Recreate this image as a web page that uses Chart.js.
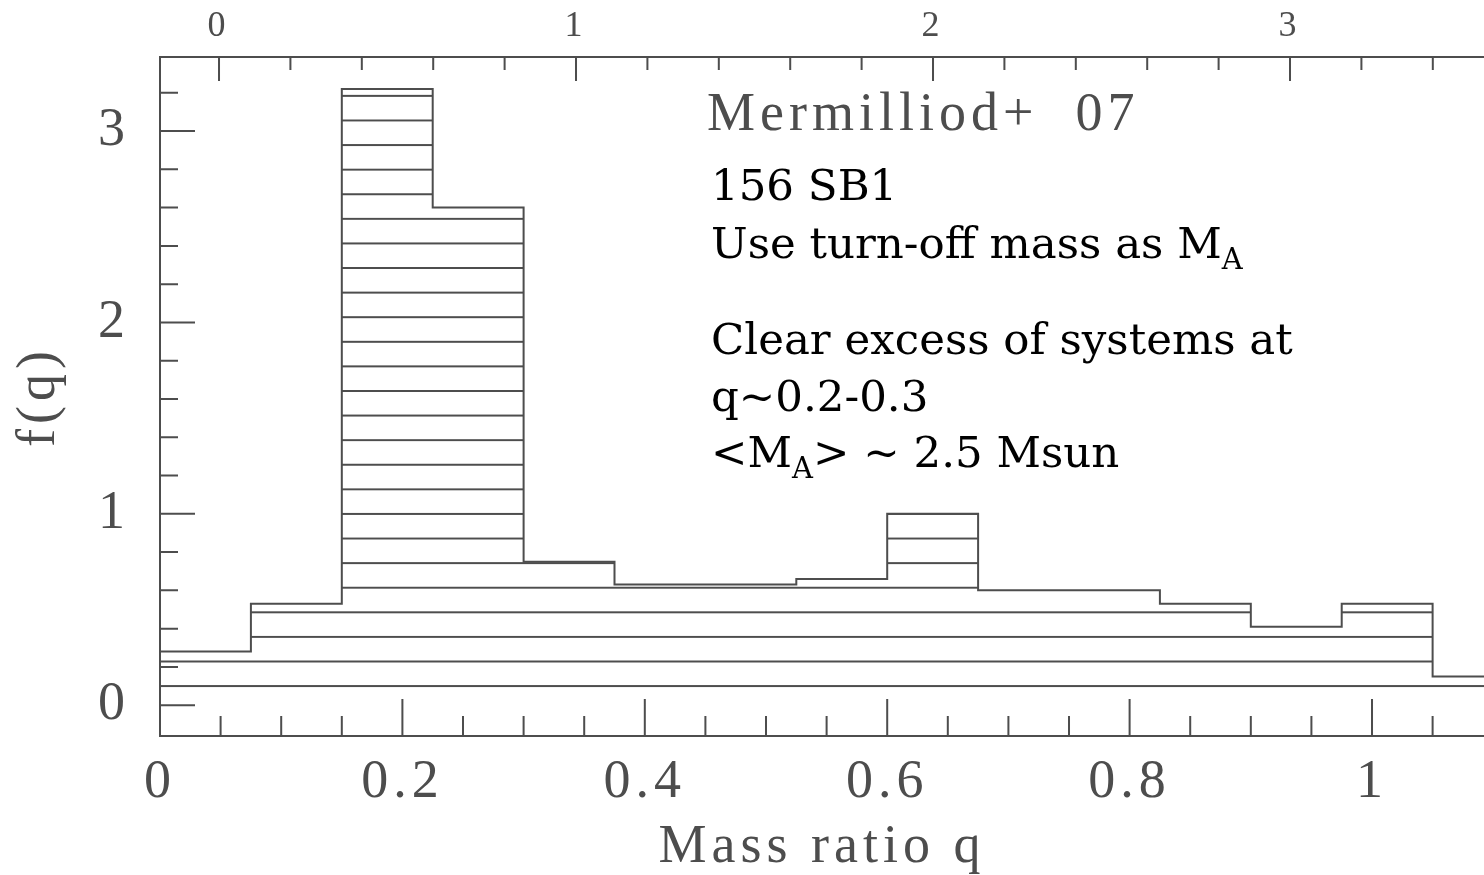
<!DOCTYPE html>
<html>
<head>
<meta charset="utf-8">
<script src="https://cdn.jsdelivr.net/npm/chart.js@4.4.1/dist/chart.umd.min.js"></script>
<style>
  html, body { margin: 0; padding: 0; background: #ffffff; overflow: hidden; }
  #wrap { position: relative; width: 1484px; height: 875px; }
  canvas { display: block; }
</style>
</head>
<body>
<div id="wrap"><canvas id="chart" width="1484" height="875"></canvas></div>
<script>
// Mass-ratio distribution f(q) of the SB1 sample, bins of width 0.075 in q
const binEdges = [0, 0.075, 0.15, 0.225, 0.3, 0.375, 0.45, 0.525, 0.6, 0.675, 0.75, 0.825, 0.9, 0.975, 1.05, 1.125];
const fq = [0.28, 0.53, 3.22, 2.60, 0.75, 0.63, 0.63, 0.66, 1.00, 0.60, 0.60, 0.53, 0.41, 0.53, 0.15];

// Tick labels
const qTickLabels = ['0', '0.2', '0.4', '0.6', '0.8', '1'];
const topTickLabels = ['0', '1', '2', '3'];
const fTickLabels = ['0', '1', '2', '3'];

// Axis titles and the text block
const xTitle = 'Mass ratio q';
const yTitle = 'f(q)';
const sourceLabel = 'Mermilliod+  07';
const noteLines = [
  [['156 SB1']],
  [['Use turn-off mass as M'], ['A', 'sub']],
  [['Clear excess of systems at']],
  [['q~0.2-0.3']],
  [['<M'], ['A', 'sub'], ['> ~ 2.5 Msun']]
];

// ---- styling ----
const GREY = '#4d4d4d';
const AXIS_FONT = { family: "'Liberation Serif', 'Times New Roman', serif", size: 54, lineHeight: 1 };
const TOP_FONT = { family: "'Liberation Serif', 'Times New Roman', serif", size: 36, lineHeight: 1 };
const NOTE_FAMILY = "'DejaVu Serif', serif";
const HATCH_START = 0.1;     // first hatch line (f units)
const HATCH_STEP = 0.1285;   // hatch spacing (f units)

// Step outline: each point opens a bin, the last point closes the final bin
const histPoints = binEdges.map((x, i) => ({ x: x, y: fq[Math.min(i, fq.length - 1)] }));

function labelFor(value, labels) {
  const hit = labels.find(l => Math.abs(parseFloat(l) - value) < 1e-6);
  return hit === undefined ? '' : hit;
}

// Horizontal-line hatching, registered to the y scale so the lines sit at fixed f values
function hatchFill(context) {
  const chart = context.chart;
  const ys = chart.scales && chart.scales.y;
  if (!ys || !chart.chartArea) return 'rgba(0,0,0,0)';
  const y0 = ys.getPixelForValue(HATCH_START);
  const step = ys.getPixelForValue(0) - ys.getPixelForValue(HATCH_STEP);
  const H = Math.max(4, Math.round(step));
  const tile = document.createElement('canvas');
  tile.width = 16; tile.height = H;
  const t = tile.getContext('2d');
  t.fillStyle = GREY;
  t.fillRect(0, 0, 16, 2);
  const pat = chart.ctx.createPattern(tile, 'repeat');
  const s = step / H;
  pat.setTransform(new DOMMatrix([1, 0, 0, s, 0, y0 - 1 * s]));
  return pat;
}

// Inward-pointing tick marks drawn from each scale's own ticks
const TICK_LEN = { x: [20, 37], x2: [13, 24], y: [18, 35] };
const inwardTicks = {
  id: 'inwardTicks',
  afterDatasetsDraw(chart) {
    const c = chart.ctx;
    const a = chart.chartArea;
    c.save();
    c.strokeStyle = GREY;
    c.lineWidth = 2;
    c.beginPath();
    Object.keys(TICK_LEN).forEach(id => {
      const s = chart.scales[id];
      if (!s) return;
      const [minor, major] = TICK_LEN[id];
      const step = s.options.ticks.stepSize;
      s.ticks.forEach(t => {
        const r = t.value / step;
        if (Math.abs(r - Math.round(r)) > 1e-6) return;
        const len = (t.label !== '' && t.label !== undefined) ? major : minor;
        const p = s.getPixelForValue(t.value);
        if (id === 'y') {
          c.moveTo(a.left, p); c.lineTo(a.left + len, p);
        } else if (s.options.position === 'bottom') {
          c.moveTo(p, a.bottom); c.lineTo(p, a.bottom - len);
        } else {
          c.moveTo(p, a.top); c.lineTo(p, a.top + len);
        }
      });
    });
    c.stroke();
    c.restore();
  }
};

// Wide letter spacing for the plot-package style lettering
const spacedLettering = {
  id: 'spacedLettering',
  beforeDraw(chart) { chart.ctx.letterSpacing = '5px'; },
  afterDraw(chart) { chart.ctx.letterSpacing = '0px'; }
};

// Source label and the explanatory text block
const notes = {
  id: 'notes',
  afterDraw(chart) {
    const c = chart.ctx;
    const a = chart.chartArea;
    c.save();
    c.textBaseline = 'alphabetic';
    c.textAlign = 'left';
    c.letterSpacing = '5px';
    c.fillStyle = GREY;
    c.font = "54px " + AXIS_FONT.family;
    c.fillText(sourceLabel, a.left + 547, 130);
    c.letterSpacing = '0px';
    c.fillStyle = '#000000';
    const baselines = [200, 258, 354, 411, 467];
    const x0 = a.left + 551;
    noteLines.forEach((line, i) => {
      let x = x0;
      line.forEach(([txt, kind]) => {
        const sub = kind === 'sub';
        c.font = (sub ? 29 : 43.5) + 'px ' + NOTE_FAMILY;
        c.fillText(txt, x, baselines[i] + (sub ? 11 : 0));
        x += c.measureText(txt).width;
      });
    });
    c.restore();
  }
};

const ctx = document.getElementById('chart').getContext('2d');
new Chart(ctx, {
  type: 'line',
  data: {
    datasets: [{
      data: histPoints,
      stepped: 'before',
      borderColor: GREY,
      borderWidth: 2,
      pointRadius: 0,
      fill: 'origin',
      backgroundColor: hatchFill,
      xAxisID: 'x',
      yAxisID: 'y'
    }]
  },
  options: {
    responsive: false,
    animation: false,
    events: [],
    layout: { padding: 0 },
    plugins: { legend: { display: false }, tooltip: { enabled: false } },
    scales: {
      x: {
        type: 'linear',
        position: 'bottom',
        min: 0,
        max: 1.0924,
        afterFit(s) { s.height = 139; },
        grid: { display: false, drawTicks: false },
        border: { display: true, color: GREY, width: 2 },
        ticks: {
          stepSize: 0.05, autoSkip: false, includeBounds: false, maxRotation: 0, minRotation: 0,
          padding: 20, color: GREY, font: AXIS_FONT,
          callback: v => labelFor(v, qTickLabels)
        },
        title: { display: true, text: xTitle, color: GREY, font: AXIS_FONT, padding: { top: 0, bottom: 0 } }
      },
      x2: {
        type: 'linear',
        position: 'top',
        min: -0.1653,
        max: 3.5434,
        afterFit(s) { s.height = 54; },
        grid: { display: false, drawTicks: false },
        border: { display: true, color: GREY, width: 2 },
        ticks: {
          stepSize: 0.2, autoSkip: false, includeBounds: false, maxRotation: 0, minRotation: 0,
          padding: 12, color: GREY, font: TOP_FONT,
          callback: v => labelFor(v, topTickLabels)
        }
      },
      y: {
        type: 'linear',
        position: 'left',
        min: -0.161,
        max: 3.387,
        afterFit(s) { s.width = 160; },
        grid: { display: false, drawTicks: false },
        border: { display: true, color: GREY, width: 2 },
        ticks: {
          stepSize: 0.2, autoSkip: false, includeBounds: false,
          padding: 30, color: GREY, font: AXIS_FONT,
          callback: v => labelFor(v, fTickLabels)
        },
        title: { display: true, text: yTitle, color: GREY, font: AXIS_FONT, padding: { top: 13, bottom: 0 } }
      }
    }
  },
  plugins: [spacedLettering, inwardTicks, notes]
});
</script>
</body>
</html>
